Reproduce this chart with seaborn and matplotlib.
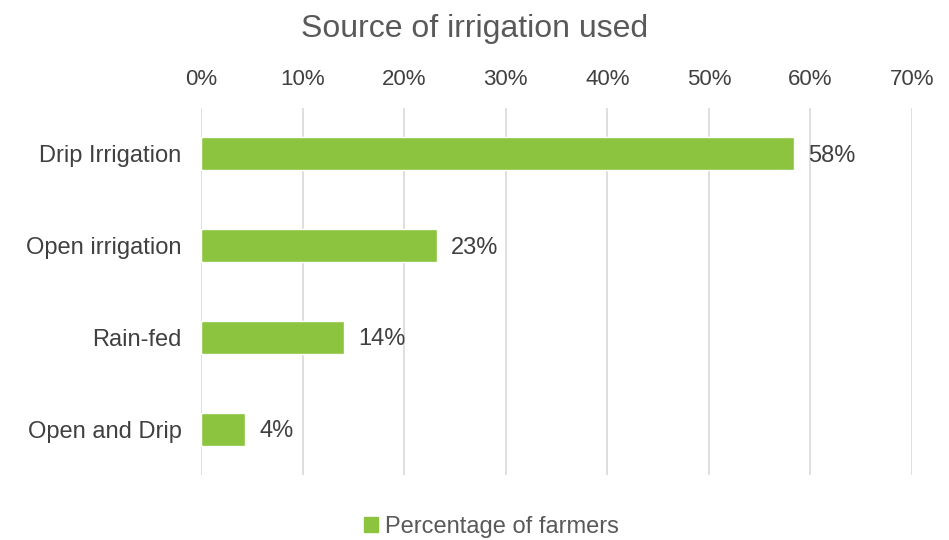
import pandas as pd
import matplotlib.pyplot as plt
import seaborn as sns
from matplotlib.ticker import PercentFormatter
from matplotlib.patches import Patch

# Chart data
categories = ['Drip Irrigation', 'Open irrigation', 'Rain-fed', 'Open and Drip']
percentages = [58.4, 23.2, 14.1, 4.3]
series_name = 'Percentage of farmers'

df = pd.DataFrame({'source': categories, 'pct': percentages})

sns.set_style('white')
plt.rcParams['font.family'] = ['Liberation Sans', 'DejaVu Sans']

bar_color = '#8CC43F'
text_color = '#404040'

fig = plt.figure(figsize=(9.49, 5.4), dpi=100)
ax = fig.add_axes([0.212, 0.12, 0.749, 0.68])

sns.barplot(data=df, x='pct', y='source', color=bar_color, width=0.36,
            saturation=1, ax=ax, zorder=3)

ax.set_xlim(0, 70)
ax.set_xticks(range(0, 71, 10))
ax.xaxis.set_major_formatter(PercentFormatter(decimals=0))
ax.xaxis.tick_top()
ax.tick_params(axis='x', length=0, pad=13, labelsize=16, colors=text_color)
ax.tick_params(axis='y', length=0, pad=14, labelsize=17, colors=text_color)
ax.grid(axis='x', color='#D9D9D9', linewidth=1.2, zorder=0)
ax.set_xlabel('')
ax.set_ylabel('')
for side in ax.spines:
    ax.spines[side].set_visible(False)

# value labels
for i, v in enumerate(percentages):
    ax.text(v + 1.4, i + 0.02, f'{v:.0f}%', va='center', ha='left',
            fontsize=17, color=text_color)

fig.suptitle('Source of irrigation used', y=0.975, fontsize=23, color='#595959')

fig.legend(handles=[Patch(color=bar_color, label=series_name)],
           loc='lower center', bbox_to_anchor=(0.518, -0.035), frameon=False,
           fontsize=17, handlelength=0.6, handleheight=0.6, handletextpad=0.3,
           labelcolor='#595959')

fig.savefig('out.png', dpi=100)
